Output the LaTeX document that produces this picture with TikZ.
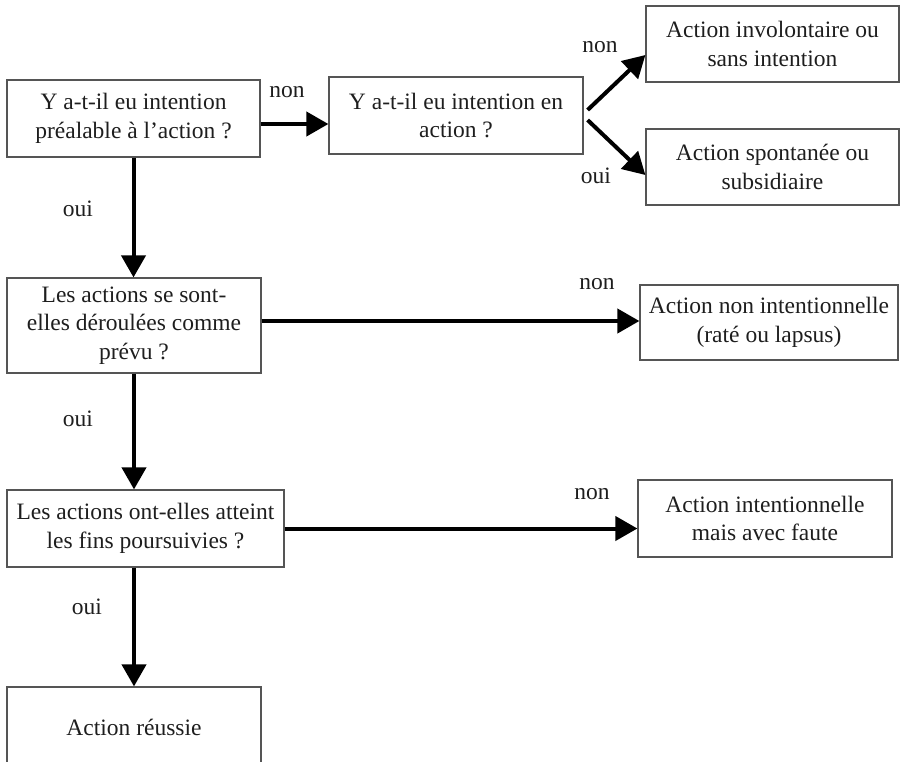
\documentclass[tikz,border=0pt]{standalone}
\usepackage{fontspec}
\setmainfont{Liberation Serif}
\usetikzlibrary{arrows.meta,calc}
\definecolor{ink}{HTML}{1E1E1E}
\definecolor{boxline}{HTML}{555555}
\tikzset{
  qbox/.style={draw=boxline, line width=1.2pt, align=center, text=ink, inner sep=2pt,
    font=\fontsize{23.5}{28.5}\selectfont},
  lbl/.style={text=ink, inner sep=0pt, font=\fontsize{23.5}{28.5}\selectfont},
  arr/.style={draw=black, line width=4pt, -{Triangle[length=22pt,width=24pt]}}
}
\begin{document}
\begin{tikzpicture}[x=1pt,y=-1pt]
\path[use as bounding box] (0,0) rectangle (901,761);
\clip (0,0) rectangle (901,761);
\node[qbox, minimum width=253pt, minimum height=77pt] (b1) at (133.5,118.5) {Y a-t-il eu intention\\préalable à l’action ?};
\node[qbox, minimum width=254pt, minimum height=77pt] (b2) at (456,115.5) {Y a-t-il eu intention en\\action ?};
\node[qbox, minimum width=253pt, minimum height=76pt] (inv) at (772.5,44) {Action involontaire ou\\sans intention};
\node[qbox, minimum width=253pt, minimum height=76pt] (spo) at (772.5,167) {Action spontanée ou\\subsidiaire};
\node[qbox, minimum width=254pt, minimum height=95pt] (b3) at (134,325.5) {Les actions se sont-\\elles déroulées comme\\prévu ?};
\node[qbox, minimum width=258pt, minimum height=75pt] (nint) at (769,322.5) {Action non intentionnelle\\(raté ou lapsus)};
\node[qbox, minimum width=277pt, minimum height=77pt] (b5) at (145.5,528.5) {Les actions ont-elles atteint\\les fins poursuivies ?};
\node[qbox, minimum width=254pt, minimum height=77pt] (faute) at (765,518.5) {Action intentionnelle\\mais avec faute};
\node[qbox, minimum width=254pt, minimum height=80pt] (ok) at (134,727) {Action réussie};

\coordinate (s1) at ($(b1.east)+(0,5.5)$);
\draw[arr] (s1) -- (s1 -| b2.west);
\coordinate (d1) at ($(b2.east)+(4,-5.5)$);
\coordinate (d2) at ($(b2.east)+(4,4.5)$);
\draw[arr] (d1) -- (inv.west |- 0,55);
\draw[arr] (d2) -- (spo.west |- 0,175);
\draw[arr] (b1.south) -- (b1.south |- b3.north);
\coordinate (s3) at ($(b3.east)+(0,-4.5)$);
\draw[arr] (s3) -- (s3 -| nint.west);
\draw[arr] (b3.south) -- (b3.south |- b5.north);
\draw[arr] (b5.east) -- (b5.east -| faute.west);
\draw[arr] (b5.south -| ok.north) -- (ok.north);

\node[lbl] (l1) at (287,92) {non};
\node[lbl] (l2) at (600,47) {non};
\node[lbl] (l3) at (596,176) {oui};
\node[lbl] (l4) at (78,209) {oui};
\node[lbl] (l5) at (597,284) {non};
\node[lbl] (l6) at (78,419) {oui};
\node[lbl] (l7) at (592,494) {non};
\node[lbl] (l8) at (87,607) {oui};
\end{tikzpicture}
\end{document}
